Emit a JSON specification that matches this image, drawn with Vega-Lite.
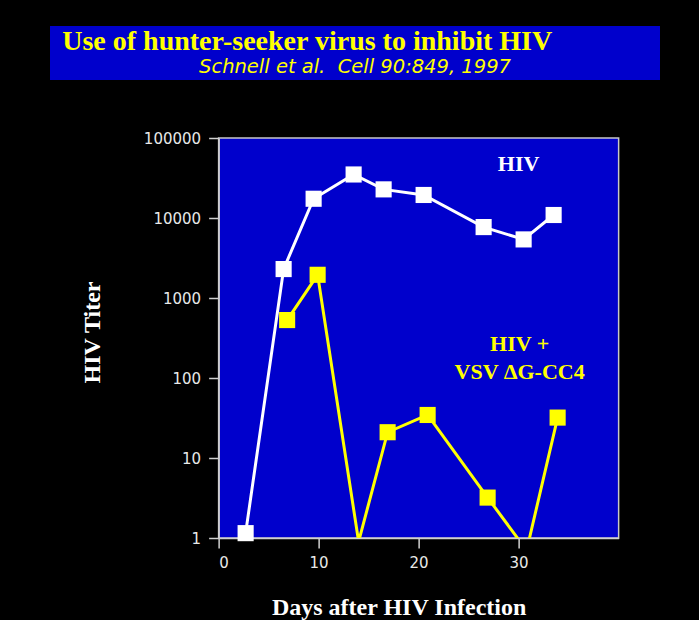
{
  "$schema": "https://vega.github.io/schema/vega-lite/v6.json",
  "background": "black",
  "padding": {"left": 50, "top": 26, "right": 0, "bottom": 0},
  "center": true,
  "spacing": 50,
  "config": {
    "view": {"fill": "#0000cc", "stroke": null},
    "axis": {
      "grid": false,
      "labelColor": "#e8e8e8",
      "labelFont": "DejaVu Sans",
      "labelFontSize": 15,
      "domainColor": "#d0d0d0",
      "tickColor": "#d0d0d0",
      "domainWidth": 1.5,
      "tickWidth": 1.5,
      "tickSize": 10,
      "titleColor": "white",
      "titleFont": "Liberation Serif",
      "titleFontSize": 24,
      "titleFontWeight": "bold"
    }
  },
  "datasets": {
    "titers": [
      {"series": "HIV", "day": 2.7, "titer": 1.15},
      {"series": "HIV", "day": 6.5, "titer": 2300},
      {"series": "HIV", "day": 9.5, "titer": 17400},
      {"series": "HIV", "day": 13.5, "titer": 35000},
      {"series": "HIV", "day": 16.5, "titer": 22800},
      {"series": "HIV", "day": 20.5, "titer": 19400},
      {"series": "HIV", "day": 26.5, "titer": 7700},
      {"series": "HIV", "day": 30.5, "titer": 5400},
      {"series": "HIV", "day": 33.5, "titer": 10900},
      {"series": "HIV + VSV ΔG-CC4", "day": 6.85, "titer": 530},
      {"series": "HIV + VSV ΔG-CC4", "day": 9.9, "titer": 1950},
      {"series": "HIV + VSV ΔG-CC4", "day": 14.0, "titer": 0.9},
      {"series": "HIV + VSV ΔG-CC4", "day": 16.9, "titer": 21},
      {"series": "HIV + VSV ΔG-CC4", "day": 20.9, "titer": 34.5},
      {"series": "HIV + VSV ΔG-CC4", "day": 26.9, "titer": 3.2},
      {"series": "HIV + VSV ΔG-CC4", "day": 30.8, "titer": 0.7},
      {"series": "HIV + VSV ΔG-CC4", "day": 33.9, "titer": 32}
    ]
  },
  "vconcat": [
    {
      "width": 610,
      "height": 54,
      "title": {"text": "\u00a0", "orient": "right", "offset": 118, "fontSize": 10, "color": "black"},
      "layer": [
        {
          "data": {"values": [{"text": "Use of hunter-seeker virus to inhibit HIV"}]},
          "mark": {"type": "text", "align": "left", "baseline": "middle", "font": "Liberation Serif", "fontWeight": "bold", "fontSize": 28, "color": "#ffff00"},
          "encoding": {
            "x": {"datum": 0.02, "type": "quantitative", "scale": {"domain": [0, 1]}, "axis": null},
            "y": {"datum": 0.7, "type": "quantitative", "scale": {"domain": [0, 1]}, "axis": null},
            "text": {"field": "text"}
          }
        },
        {
          "data": {"values": [{"text": "Schnell et al.\u00a0 Cell 90:849, 1997"}]},
          "mark": {"type": "text", "align": "center", "baseline": "middle", "font": "DejaVu Sans", "fontStyle": "italic", "fontSize": 19.5, "color": "#ffff00"},
          "encoding": {
            "x": {"datum": 0.5, "type": "quantitative", "scale": {"domain": [0, 1]}, "axis": null},
            "y": {"datum": 0.24, "type": "quantitative", "scale": {"domain": [0, 1]}, "axis": null},
            "text": {"field": "text"}
          }
        }
      ]
    },
    {
      "width": 400,
      "height": 400,
      "view": {"fill": "#0000cc", "stroke": "#c8c8c8", "strokeWidth": 1.5},
      "layer": [
        {
          "data": {"name": "titers"},
          "mark": {"type": "line", "strokeWidth": 3, "clip": true},
          "encoding": {
            "x": {"field": "day", "type": "quantitative"},
            "y": {"field": "titer", "type": "quantitative"},
            "color": {"field": "series", "type": "nominal"}
          }
        },
        {
          "data": {"name": "titers"},
          "transform": [{"filter": "datum.titer >= 1"}],
          "mark": {"type": "point", "shape": "square", "filled": true, "size": 260, "opacity": 1},
          "encoding": {
            "x": {"field": "day", "type": "quantitative"},
            "y": {"field": "titer", "type": "quantitative"},
            "color": {"field": "series", "type": "nominal"}
          }
        },
        {
          "data": {"values": [{"label": "HIV", "series": "HIV"}]},
          "mark": {"type": "text", "align": "center", "baseline": "middle", "font": "Liberation Serif", "fontWeight": "bold", "fontSize": 22},
          "encoding": {
            "x": {"datum": 30.0, "type": "quantitative"},
            "y": {"datum": 47000, "type": "quantitative"},
            "text": {"field": "label", "type": "nominal"},
            "color": {"field": "series", "type": "nominal"}
          }
        },
        {
          "data": {"values": [{"label": "HIV +", "series": "HIV + VSV ΔG-CC4"}]},
          "mark": {"type": "text", "align": "center", "baseline": "middle", "font": "Liberation Serif", "fontWeight": "bold", "fontSize": 22},
          "encoding": {
            "x": {"datum": 30.1, "type": "quantitative"},
            "y": {"datum": 266, "type": "quantitative"},
            "text": {"field": "label", "type": "nominal"},
            "color": {"field": "series", "type": "nominal"}
          }
        },
        {
          "data": {"values": [{"label": "VSV ΔG-CC4", "series": "HIV + VSV ΔG-CC4"}]},
          "mark": {"type": "text", "align": "center", "baseline": "middle", "font": "Liberation Serif", "fontWeight": "bold", "fontSize": 22},
          "encoding": {
            "x": {"datum": 30.1, "type": "quantitative"},
            "y": {"datum": 119, "type": "quantitative"},
            "text": {"field": "label", "type": "nominal"},
            "color": {"field": "series", "type": "nominal"}
          }
        }
      ],
      "encoding": {
        "x": {
          "type": "quantitative",
          "scale": {"domain": [0, 40], "nice": false},
          "axis": {"values": [0, 10, 20, 30], "title": "Days after HIV Infection", "labelPadding": 7, "titlePadding": 25, "titleX": 180}
        },
        "y": {
          "type": "quantitative",
          "scale": {"type": "log", "domain": [1, 100000], "nice": false},
          "axis": {"values": [1, 10, 100, 1000, 10000, 100000], "format": "d", "title": "HIV Titer", "labelPadding": 8, "titlePadding": 39, "titleY": 194}
        },
        "color": {
          "type": "nominal",
          "scale": {"domain": ["HIV", "HIV + VSV ΔG-CC4"], "range": ["#ffffff", "#ffff00"]},
          "legend": null
        }
      }
    }
  ]
}
